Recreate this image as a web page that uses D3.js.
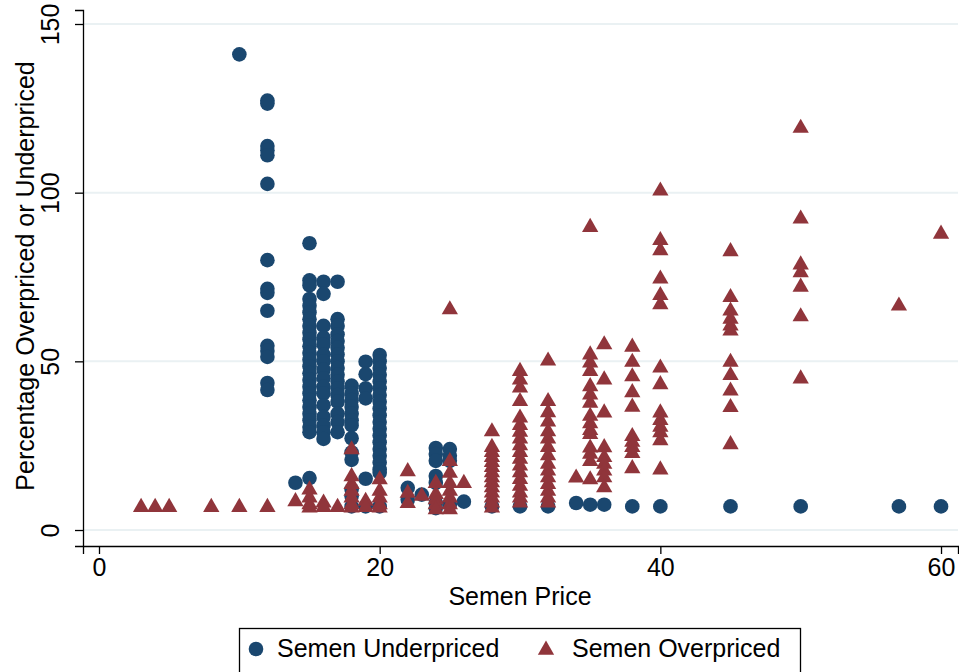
<!DOCTYPE html>
<html>
<head>
<meta charset="utf-8">
<script src="https://cdn.jsdelivr.net/npm/d3@7"></script>
<style>
  body { margin: 0; background: #fff; }
  text { font-family: "Liberation Sans", Arial, sans-serif; fill: #000; }
</style>
</head>
<body>
<div id="chart"></div>
<script>
// Each entry: [semen price, list of percentages at that price]
const underpriced = [
  [10, [141]],
  [12, [127.3, 126.4, 113.8, 112.6, 111.1, 102.6, 80, 71.5, 70.3, 65, 54.6, 53.1, 51.3, 43.6, 41.5]],
  [14, [14]],
  [15, [85, 74, 72.5, 68.5, 66.5, 64.5, 62.5, 60.5, 58.5, 56.5, 54.5, 52.5, 50.5, 48.5, 46.5, 44.5, 42.5, 40.5, 38.5, 36.5, 34.5, 32.5, 30.5, 29, 15.4]],
  [16, [73.6, 70, 60.5, 57, 55, 52, 50, 47.5, 45, 42.5, 40.5, 37, 33.5, 31, 29, 27]],
  [17, [73.6, 62.5, 60.5, 58, 56, 54, 52, 50, 48, 46, 44, 42, 40, 38, 34.5, 32, 29]],
  [18, [42.8, 40.5, 38.5, 36.5, 34.5, 32.5, 31, 27.2, 23, 20.8, 12, 10, 7]],
  [19, [49.9, 46.2, 42, 39, 15.2, 7]],
  [20, [51.9, 50, 48, 46, 44, 42, 40, 38, 36, 34, 32, 30, 28, 26, 24, 22, 20, 18, 17, 7]],
  [22, [12.5, 9]],
  [23, [10.5]],
  [24, [24.3, 22.5, 20.5, 16, 14, 8, 6.5]],
  [25, [24, 22, 20.5, 7.5]],
  [26, [8.4]],
  [28, [7]],
  [30, [7]],
  [32, [7]],
  [34, [8]],
  [35, [7.5]],
  [36, [7.5]],
  [38, [7]],
  [40, [7]],
  [45, [7]],
  [50, [7]],
  [57, [7]],
  [60, [7]]
]

const overpriced = [
  [3, [7.2]], [4, [7.2]], [5, [7.2]], [8, [7.2]], [10, [7.2]], [12, [7.2]],
  [14, [8.9]],
  [15, [12.4, 10, 8, 7]],
  [16, [8.5, 7.2]],
  [17, [7.2]],
  [18, [24.3, 16.3, 14, 12, 10, 8, 7]],
  [19, [9, 7.2]],
  [20, [15.4, 12, 10, 8, 7]],
  [22, [17.8, 11.4, 8.4]],
  [23, [10.5]],
  [24, [14.3, 11, 9.5, 8, 6.5]],
  [25, [65.8, 20.8, 17.3, 14.3, 12, 10, 8, 6.5]],
  [26, [14.3]],
  [28, [29.6, 25, 23.5, 22, 20.5, 19, 17.5, 16, 14.5, 13, 11.5, 10, 8.5, 7]],
  [30, [47.5, 45, 42.6, 38.6, 33.7, 31.5, 29.5, 27.5, 25.5, 23.5, 21.5, 19.5, 17.5, 15.5, 13.5, 11.5, 10, 8.5]],
  [32, [50.6, 38.6, 35.3, 32.5, 29.6, 27.5, 25, 22.5, 20, 18, 16, 14, 12, 10, 8.5]],
  [34, [15.9]],
  [35, [90.2, 52.4, 50, 47.5, 43, 40.5, 38.1, 34.2, 32, 30, 28.8, 24.8, 23, 20.8, 15.4]],
  [36, [55.4, 45, 35.2, 24.9, 22, 20, 18, 16, 13]],
  [38, [54.7, 50.2, 45.9, 41.2, 36.9, 28.2, 26.5, 25, 23.2, 18.7]],
  [40, [101, 86.3, 83.3, 74.9, 70, 67.3, 48.5, 43.6, 35.2, 33, 31, 29.3, 27, 18.3]],
  [45, [83, 69.4, 65.4, 63, 61, 59.5, 50.2, 46.3, 41.7, 36.8, 25.8]],
  [50, [119.6, 92.7, 79.1, 76.8, 72.5, 63.7, 45.3]],
  [57, [66.9]],
  [60, [88.2]]
]

const xTicks = [0, 20, 40, 60]
const yTicks = [0, 50, 100, 150]
const legendLabels = ["Semen Underpriced", "Semen Overpriced"]

const width = 959
const height = 672
const fontSize = 25
const navy = "#1a476f"
const maroon = "#90353b"

const svg = d3.select("#chart").append("svg")
    .attr("width", width)
    .attr("height", height)

// plot region: axis lines sit slightly outside the data range (Stata style)
const x = d3.scaleLinear()
    .domain([-1.14, 61.21])
    .range([83, 958])
const y = d3.scaleLinear()
    .domain([-4.74, 154.15])
    .range([546, 10])

// grid
svg.append("g")
  .selectAll("line")
  .data(yTicks)
  .join("line")
    .attr("x1", 84)
    .attr("x2", 958)
    .attr("y1", d => y(d))
    .attr("y2", d => y(d))
    .attr("stroke", "#eaf1f3")
    .attr("stroke-width", 2)

// axes
const xAxis = svg.append("g")
    .attr("transform", "translate(0,546)")
    .call(d3.axisBottom(x).tickValues(xTicks).tickSizeOuter(0).tickSize(8).tickPadding(4))
const yAxis = svg.append("g")
    .attr("transform", "translate(83,0)")
    .call(d3.axisLeft(y).tickValues(yTicks).tickSizeOuter(0).tickSize(8).tickPadding(4))

svg.selectAll(".domain, .tick line").attr("stroke", "#000").attr("stroke-width", 1.3)
xAxis.selectAll(".tick text")
    .attr("font-size", fontSize)
    .attr("font-family", "Liberation Sans, Arial, sans-serif")
    .attr("dy", "0.72em")
yAxis.selectAll(".tick text")
    .attr("font-size", fontSize)
    .attr("font-family", "Liberation Sans, Arial, sans-serif")
    .attr("text-anchor", "middle")
    .attr("x", 0)
    .attr("dy", 0)
    .attr("transform", "translate(-24,0) rotate(-90)")

// axis titles
svg.append("text")
    .attr("x", 520)
    .attr("y", 605)
    .attr("text-anchor", "middle")
    .attr("font-size", fontSize)
    .text("Semen Price")
svg.append("text")
    .attr("transform", "translate(34,276) rotate(-90)")
    .attr("text-anchor", "middle")
    .attr("font-size", fontSize)
    .text("Percentage Overpriced or Underpriced")

// flatten columns into points
const flat = cols => cols.flatMap(([p, vals]) => vals.map(v => ({ price: p, pct: v })))
const underPts = flat(underpriced)
const overPts = flat(overpriced)

const triangle = d3.symbol().type(d3.symbolTriangle).size(115)

svg.append("g")
  .selectAll("circle")
  .data(underPts)
  .join("circle")
    .attr("cx", d => x(d.price))
    .attr("cy", d => y(d.pct))
    .attr("r", 7.3)
    .attr("fill", navy)

svg.append("g")
  .selectAll("path")
  .data(overPts)
  .join("path")
    .attr("d", triangle)
    .attr("transform", d => "translate(" + x(d.price) + "," + (y(d.pct) + 1.5) + ")")
    .attr("fill", maroon)

// legend
const legend = svg.append("g")
legend.append("rect")
    .attr("x", 239.5)
    .attr("y", 628.5)
    .attr("width", 561)
    .attr("height", 60)
    .attr("fill", "#fff")
    .attr("stroke", "#000")
    .attr("stroke-width", 1.3)
legend.append("circle")
    .attr("cx", 256)
    .attr("cy", 649)
    .attr("r", 7.3)
    .attr("fill", navy)
legend.append("text")
    .attr("x", 277)
    .attr("y", 657)
    .attr("font-size", fontSize)
    .text(legendLabels[0])
legend.append("path")
    .attr("d", triangle)
    .attr("transform", "translate(546,650)")
    .attr("fill", maroon)
legend.append("text")
    .attr("x", 572)
    .attr("y", 657)
    .attr("font-size", fontSize)
    .text(legendLabels[1])
</script>
</body>
</html>
